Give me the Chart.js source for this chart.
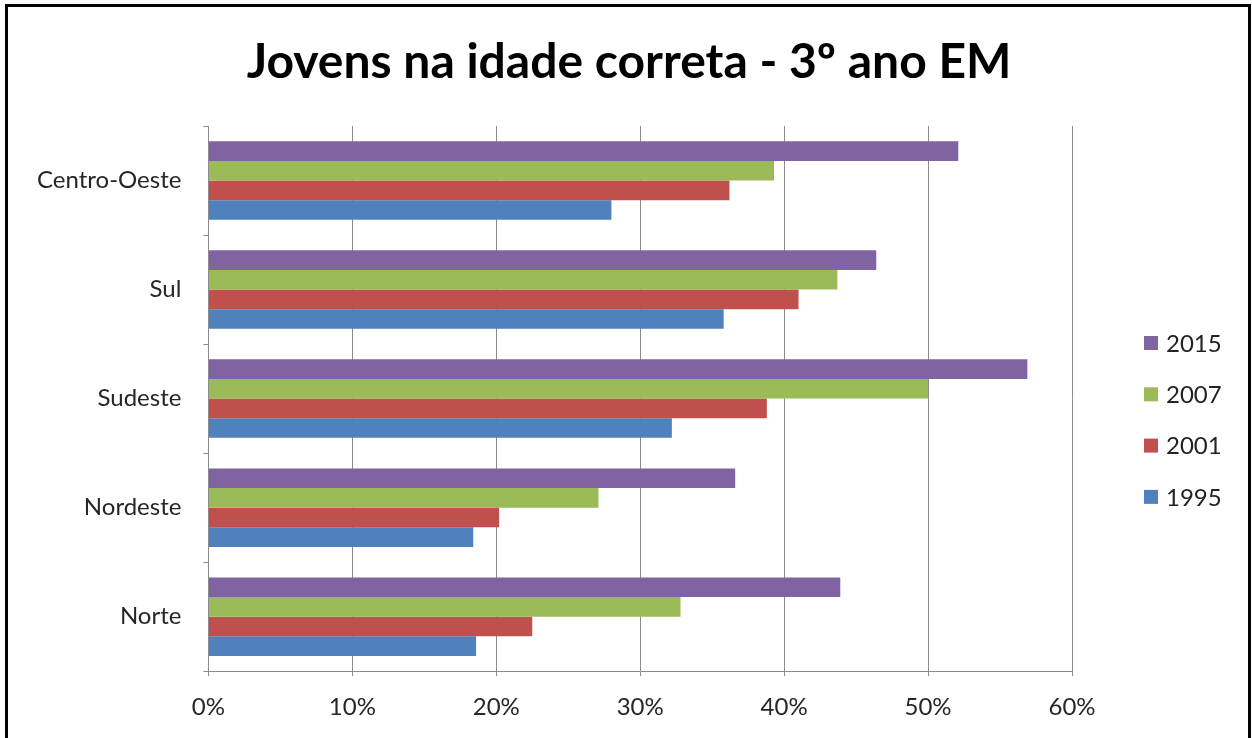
<!DOCTYPE html>
<html>
<head>
<meta charset="utf-8">
<script src="https://cdn.jsdelivr.net/npm/chart.js@4.4.1/dist/chart.umd.min.js"></script>
<style>
  html, body { margin: 0; padding: 0; background: #fff; overflow: hidden; }
  #wrap { position: absolute; left: 0; top: 0; width: 1252px; height: 738px; }
  #frame { position: absolute; left: 5px; top: 4px; width: 1240px; height: 800px; border: 3px solid #000; pointer-events: none; }
</style>
</head>
<body>
<div id="wrap">
  <canvas id="chart" width="1252" height="738"></canvas>
  <div id="frame"></div>
</div>
<script>
// Regions, top to bottom
const regions = ['Centro-Oeste', 'Sul', 'Sudeste', 'Nordeste', 'Norte'];
const years = ['2015', '2007', '2001', '1995'];
const v2015 = [52.1, 46.4, 56.9, 36.6, 43.9];
const v2007 = [39.3, 43.7, 50.0, 27.1, 32.8];
const v2001 = [36.2, 41.0, 38.8, 20.2, 22.5];
const v1995 = [28.0, 35.8, 32.2, 18.4, 18.6];
const xTicks = [0, 10, 20, 30, 40, 50, 60];
const titleText = 'Jovens na idade correta - 3º ano EM';

const colors = ['#8064A2', '#9BBB59', '#C0504D', '#4F81BD'];
const seriesValues = [v2015, v2007, v2001, v1995];
const FONT = 'Lato, "Open Sans", sans-serif';
const gridColor = '#8c8c8c';

// Title and legend drawn by hand so they sit where Excel put them
const excelDecor = {
    id: 'excelDecor',
    afterDraw(chart) {
        const ctx = chart.ctx;
        ctx.save();
        ctx.fillStyle = '#000';
        ctx.font = 'bold 48px ' + FONT;
        ctx.textAlign = 'center';
        ctx.textBaseline = 'alphabetic';
        ctx.fillText(titleText, 629, 78);

        const x = 1144, y0 = 343, step = 51.3, box = 14;
        ctx.font = '24px ' + FONT;
        ctx.textAlign = 'left';
        ctx.textBaseline = 'middle';
        chart.data.datasets.forEach((ds, i) => {
            const y = y0 + i * step;
            ctx.fillStyle = ds.backgroundColor;
            ctx.fillRect(x, y - box / 2, box, box);
            ctx.fillStyle = '#222';
            ctx.fillText(ds.label, x + 22, y + 1);
        });
        ctx.restore();
    }
};

const datasets = years.map((label, i) => ({
    label,
    data: seriesValues[i],
    backgroundColor: colors[i],
    borderWidth: 0,
    categoryPercentage: 0.72,
    barPercentage: 1.0
}));

new Chart(document.getElementById('chart').getContext('2d'), {
    type: 'bar',
    data: { labels: regions, datasets },
    options: {
        indexAxis: 'y',
        responsive: false,
        animation: false,
        layout: { padding: { left: 15, right: 180, top: 126, bottom: -1 } },
        scales: {
            x: {
                min: 0,
                max: 60,
                afterBuildTicks: (axis) => { axis.ticks = xTicks.map(v => ({ value: v })); },
                grid: { color: gridColor, tickLength: 5, lineWidth: 1 },
                border: { color: gridColor },
                ticks: { color: '#262626', font: { family: FONT, size: 24 }, padding: 17, callback: v => v + '%' }
            },
            y: {
                grid: { drawOnChartArea: false, color: gridColor, tickLength: 5, offset: true },
                border: { color: gridColor },
                ticks: { color: '#262626', font: { family: FONT, size: 24 }, padding: 22 }
            }
        },
        plugins: {
            legend: { display: false },
            tooltip: { enabled: false },
            title: { display: false }
        }
    },
    plugins: [excelDecor]
});
</script>
</body>
</html>
